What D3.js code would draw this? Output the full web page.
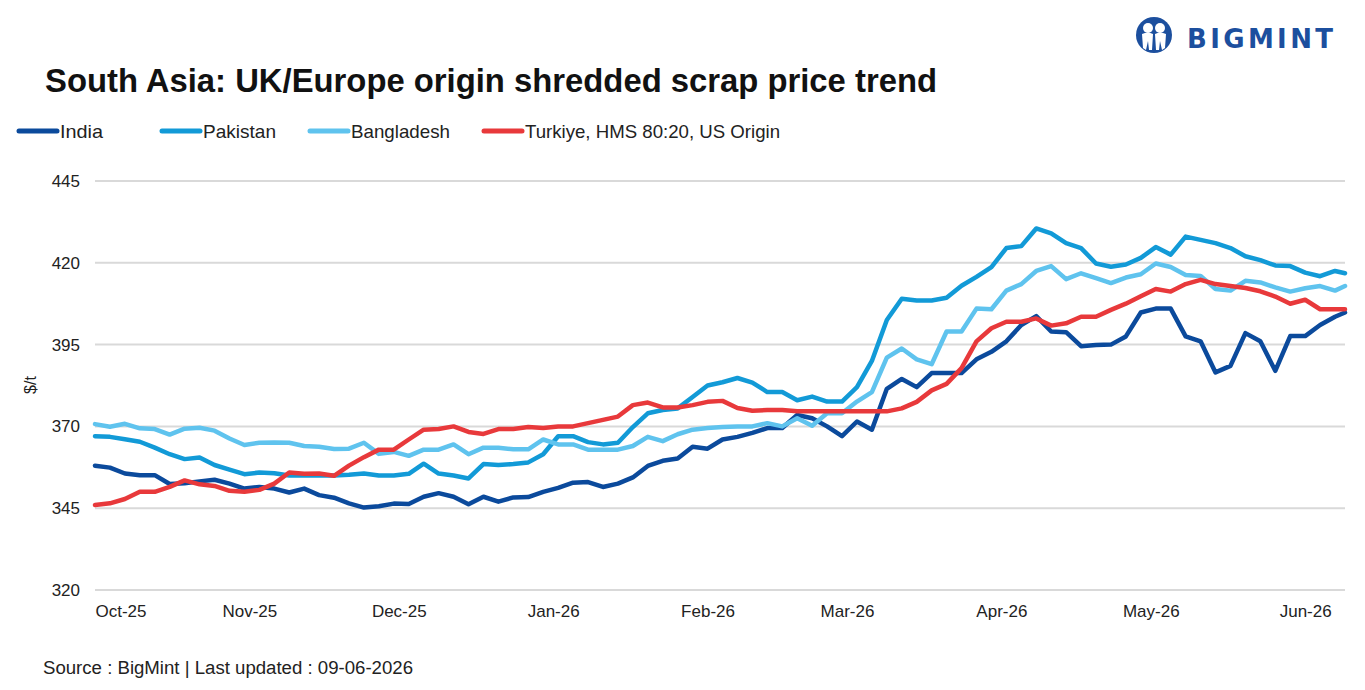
<!DOCTYPE html>
<html>
<head>
<meta charset="utf-8">
<script src="https://cdn.jsdelivr.net/npm/d3@7"></script>
<style>
  body { margin: 0; background: #fff; }
  svg { display: block; }
</style>
</head>
<body>
<svg id="chart"></svg>
<script>
// dates of the samples (every 3 days)
var dates = ["2025-10-01","2025-10-04","2025-10-07","2025-10-10","2025-10-13","2025-10-16","2025-10-19","2025-10-22","2025-10-25","2025-10-28",
  "2025-10-31","2025-11-03","2025-11-06","2025-11-09","2025-11-12","2025-11-15","2025-11-18","2025-11-21","2025-11-24","2025-11-27",
  "2025-11-30","2025-12-03","2025-12-06","2025-12-09","2025-12-12","2025-12-15","2025-12-18","2025-12-21","2025-12-24","2025-12-27",
  "2025-12-30","2026-01-02","2026-01-05","2026-01-08","2026-01-11","2026-01-14","2026-01-17","2026-01-20","2026-01-23","2026-01-26",
  "2026-01-29","2026-02-01","2026-02-04","2026-02-07","2026-02-10","2026-02-13","2026-02-16","2026-02-19","2026-02-22","2026-02-25",
  "2026-02-28","2026-03-03","2026-03-06","2026-03-09","2026-03-12","2026-03-15","2026-03-18","2026-03-21","2026-03-24","2026-03-27",
  "2026-03-30","2026-04-02","2026-04-05","2026-04-08","2026-04-11","2026-04-14","2026-04-17","2026-04-20","2026-04-23","2026-04-26",
  "2026-04-29","2026-05-02","2026-05-05","2026-05-08","2026-05-11","2026-05-14","2026-05-17","2026-05-20","2026-05-23","2026-05-26",
  "2026-05-29","2026-06-01","2026-06-04","2026-06-07","2026-06-09"];

var india = [358,357.4,355.6,355.1,355.1,352.4,352.6,353.2,353.7,352.5,
  351,351.5,351,349.8,351,349,348.2,346.5,345.2,345.6,
  346.4,346.3,348.5,349.6,348.5,346.2,348.5,347,348.3,348.4,
  350,351.2,352.8,353,351.5,352.5,354.4,357.9,359.5,360.2,
  363.8,363.2,366,366.8,368,369.5,369.5,373.5,372.5,370,
  367,371.5,369,381.5,384.5,382,386.3,386.3,386.3,390.5,
  392.8,396,401,403.7,399,398.8,394.5,394.9,395,397.5,
  404.8,406,406,397.5,396,386.5,388.5,398.5,396,387,
  397.6,397.6,401,403.5,404.8];

var pakistan = [367,366.8,366.1,365.3,363.5,361.5,360,360.5,358.2,356.8,
  355.4,355.9,355.7,355,355,355,355,355.2,355.6,355,
  355,355.5,358.6,355.6,355,354.1,358.5,358.2,358.5,359,
  361.5,367,367,365.2,364.5,365,369.8,374,375,375.5,
  379,382.5,383.5,384.8,383.4,380.5,380.5,378,379.1,377.6,
  377.6,382,390,402.5,409,408.5,408.5,409.3,413,415.7,
  418.7,424.5,425.1,430.5,429,426,424.5,419.8,418.8,419.5,
  421.5,424.8,422.5,428,427,426,424.5,422,420.8,419.2,
  419,417,415.9,417.5,416.8];

var bangladesh = [370.7,369.9,370.8,369.4,369.2,367.5,369.3,369.6,368.7,366.3,
  364.3,365,365.1,365,364,363.8,363.1,363.2,365,361.6,
  362.2,361,362.9,362.9,364.5,361.5,363.5,363.5,363,363,
  366,364.5,364.5,362.9,362.9,362.9,364,366.8,365.5,367.6,
  369,369.5,369.8,370,370,371,370,372.5,370.2,374,
  374,377.6,380.5,391,393.8,390.5,389,399,399,406,
  405.8,411.5,413.5,417.5,419,415,416.8,415.3,413.8,415.5,
  416.5,419.8,418.7,416.3,416,412,411.5,414.5,414,412.5,
  411.2,412.2,412.9,411.5,412.9];

var turkiye = [346,346.5,347.8,350,350,351.5,353.5,352.3,351.8,350.3,
  350,350.6,352.5,355.9,355.5,355.6,354.9,358,360.6,362.9,
  362.9,366,369,369.2,370,368.3,367.7,369.2,369.2,369.8,
  369.5,370,370,371,372,373,376.5,377.3,375.8,375.8,
  376.5,377.5,377.8,375.6,374.8,375,375,374.6,374.6,374.6,
  374.6,374.6,374.6,374.6,375.5,377.5,381,383,387.8,396,
  400,402,402,403,400.8,401.5,403.5,403.5,405.6,407.5,
  409.8,412,411.2,413.5,414.8,413.5,412.9,412.3,411.3,409.7,
  407.5,408.7,405.8,405.8,405.8];

var seriesNames = ["India", "Pakistan", "Bangladesh", "Turkiye, HMS 80:20, US Origin"];
var seriesColors = ["#0b4a9c", "#129ad7", "#5fc3ee", "#e8393b"];
var yTicks = [320, 345, 370, 395, 420, 445];
var monthTicks = ["2025-10-01","2025-11-01","2025-12-01","2026-01-01","2026-02-01","2026-03-01","2026-04-01","2026-05-01","2026-06-01"];

var W = 1365, H = 690;
var font = '"Liberation Sans", Arial, sans-serif';
var svg = d3.select('#chart').attr('width', W).attr('height', H);
var parse = d3.timeParse('%Y-%m-%d');

var x = d3.scaleTime()
  .domain([parse(dates[0]), parse(dates[dates.length - 1])])
  .range([95, 1345]);
var y = d3.scaleLinear().domain([320, 445]).range([590, 181]);

// gridlines
svg.append('g')
  .selectAll('line')
  .data(yTicks)
  .enter().append('line')
    .attr('x1', 95).attr('x2', 1345)
    .attr('y1', d => y(d)).attr('y2', d => y(d))
    .attr('stroke', '#d9d9d9').attr('stroke-width', 2);

// y axis labels
var yAxis = d3.axisLeft(y).tickValues(yTicks).tickSize(0).tickPadding(0);
var gY = svg.append('g').attr('transform', 'translate(80,0)').call(yAxis);
gY.select('.domain').remove();
gY.selectAll('text')
  .attr('font-family', font)
  .attr('font-size', 17).attr('fill', '#222');

// x axis labels
var xAxis = d3.axisBottom(x)
  .tickValues(monthTicks.map(parse))
  .tickFormat(d3.timeFormat('%b-%y'))
  .tickSize(0).tickPadding(0);
var gX = svg.append('g').attr('transform', 'translate(0,605)').call(xAxis);
gX.select('.domain').remove();
gX.selectAll('text')
  .attr('font-family', font)
  .attr('font-size', 17).attr('fill', '#222')
  .attr('text-anchor', (d, i) => i === 0 ? 'start' : 'middle');

// y title
svg.append('text')
  .attr('transform', 'translate(36,385) rotate(-90)')
  .attr('text-anchor', 'middle')
  .attr('font-family', font)
  .attr('font-size', 16).attr('fill', '#222')
  .text('$/t');

// lines
var allSeries = [india, pakistan, bangladesh, turkiye];
var line = d3.line()
  .x((d, i) => x(parse(dates[i])))
  .y(d => y(d));

svg.append('g')
  .selectAll('path')
  .data(allSeries)
  .enter().append('path')
    .attr('d', d => line(d))
    .attr('fill', 'none')
    .attr('stroke', (d, i) => seriesColors[i])
    .attr('stroke-width', 4.5)
    .attr('stroke-linejoin', 'round')
    .attr('stroke-linecap', 'round');

// legend
var legendX = [17, 160, 308, 482];
var legendW = [43, 73, 99, 255];
var leg = svg.append('g').selectAll('g')
  .data(seriesNames)
  .enter().append('g')
    .attr('transform', (d, i) => 'translate(' + legendX[i] + ',131)');
leg.append('line')
  .attr('x1', 2).attr('x2', 40)
  .attr('stroke', (d, i) => seriesColors[i])
  .attr('stroke-width', 5).attr('stroke-linecap', 'round');
leg.append('text')
  .attr('x', 43).attr('y', 6.5)
  .attr('font-family', font)
  .attr('font-size', 19).attr('fill', '#222')
  .attr('textLength', (d, i) => legendW[i])
  .attr('lengthAdjust', 'spacingAndGlyphs')
  .text(d => d);

// title
svg.append('text')
  .attr('x', 45).attr('y', 92)
  .attr('font-family', font)
  .attr('font-weight', 'bold')
  .attr('font-size', 33).attr('fill', '#111')
  .attr('textLength', 892)
  .attr('lengthAdjust', 'spacingAndGlyphs')
  .text('South Asia: UK/Europe origin shredded scrap price trend');

// source
svg.append('text')
  .attr('x', 43).attr('y', 674)
  .attr('font-family', font)
  .attr('font-size', 18).attr('fill', '#222')
  .attr('textLength', 370)
  .attr('lengthAdjust', 'spacingAndGlyphs')
  .text('Source : BigMint | Last updated : 09-06-2026');

// logo
var logo = svg.append('g').attr('transform', 'translate(1154,35)');
logo.append('circle').attr('r', 18).attr('fill', '#1c4f9e');
logo.append('circle').attr('cx', -6).attr('cy', -7).attr('r', 5).attr('fill', '#fff');
logo.append('circle').attr('cx', 6).attr('cy', -7).attr('r', 5).attr('fill', '#fff');
logo.append('path')
  .attr('d', 'M-12,-1 Q-6,-4 -1,-1 L-2,15 L-5,15 L-6,6 L-8,15 L-11,13 Z M12,-1 Q6,-4 1,-1 L2,15 L5,15 L6,6 L8,15 L11,13 Z')
  .attr('fill', '#fff');
svg.append('text')
  .attr('x', 1187).attr('y', 48)
  .attr('font-family', '"DejaVu Sans", sans-serif')
  .attr('font-weight', 'bold')
  .attr('font-size', 26)
  .attr('textLength', 146)
  .attr('lengthAdjust', 'spacing')
  .attr('fill', '#1c4f9e')
  .text('BIGMINT');
</script>
</body>
</html>
